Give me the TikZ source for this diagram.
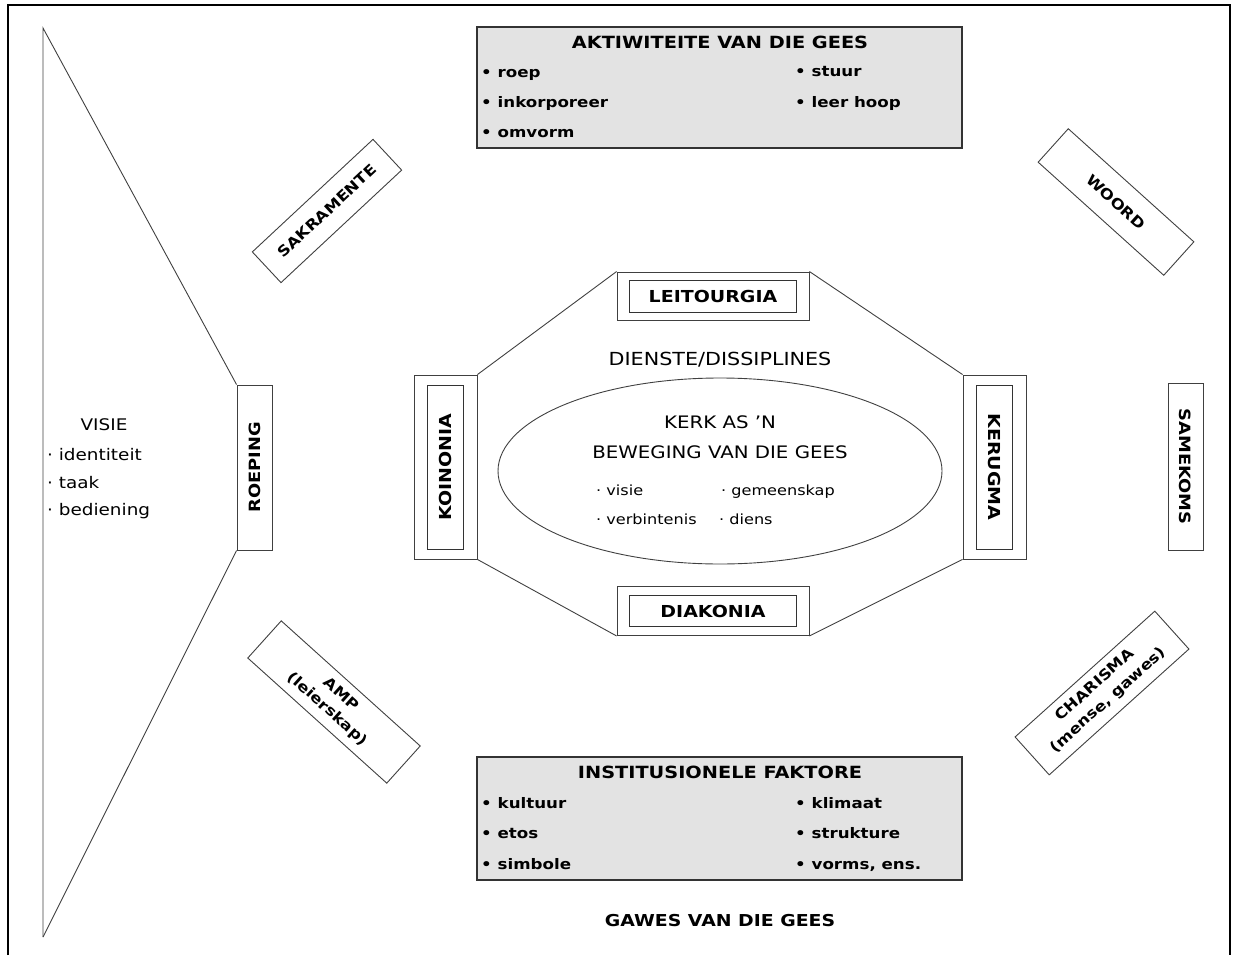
\documentclass[tikz,border=0pt]{standalone}
\usepackage{fontspec}
\setmainfont{DejaVu Sans}[FakeStretch=1.15]
\usepackage{tikz}
\usetikzlibrary{shapes.geometric}

\begin{document}
\begin{tikzpicture}[x=1pt,y=-1pt,
    line/.style={draw=black!75, line width=0.9pt},
    greybox/.style={draw=black!80, line width=1.2pt, fill=black!11, inner sep=0pt},
    outerbox/.style={draw=black!75, line width=0.9pt, fill=white, inner sep=0pt},
    innerbox/.style={draw=black!80, line width=0.9pt, inner sep=0pt, font=\bfseries\fontsize{16.5}{19}\selectfont},
    tiltbox/.style={draw=black!75, line width=0.9pt, fill=white, inner sep=0pt, align=center, font=\bfseries\fontsize{14.5}{20}\selectfont},
    boldtitle/.style={font=\bfseries\fontsize{16.8}{19}\selectfont, inner sep=0pt},
    bolditem/.style={font=\bfseries\fontsize{14.5}{17}\selectfont, inner sep=0pt, anchor=west, text height=8pt, text depth=0pt},
    upright/.style={font=\bfseries\fontsize{15.5}{18}\selectfont, inner sep=0pt},
    thintext/.style={font=\fontsize{17.2}{20}\selectfont, inner sep=0pt},
    thinitem/.style={font=\fontsize{14}{17}\selectfont, inner sep=0pt, anchor=west, text height=8pt, text depth=0pt}]

    \useasboundingbox (0,0) rectangle (1233,955);

    % Draw the frame, open at the bottom
    \draw[line width=1.6pt] (8,955) -- (8,5) -- (1230,5) -- (1230,955);

    % Draw the vision funnel and the calling box
    \node[outerbox, minimum width=35, minimum height=165] (roeping) at (254.5,467.5) {};
    \node[upright, rotate=90] (roepingtext) at (roeping) {ROEPING};
    \coordinate (funneltop) at (43,28);
    \coordinate (funnelbot) at (43,937);
    \draw[line] (funnelbot) -- (funneltop) -- (roeping.north west);
    \draw[line] (roeping.south west) -- (funnelbot);

    % Label the vision
    \node[thintext, font=\fontsize{16}{19}\selectfont] (visie) at (104,425) {VISIE};
    \node[thinitem, font=\fontsize{16}{19}\selectfont] (identiteit) at (47,456) {· identiteit};
    \node[thinitem, font=\fontsize{16}{19}\selectfont] (taak) at (47,484) {· taak};
    \node[thinitem, font=\fontsize{16}{19}\selectfont] (bediening) at (47,511) {· bediening};

    % Draw the activities of the Spirit
    \node[greybox, minimum width=485, minimum height=121] (aktiwiteite) at (719.5,87.5) {};
    \node[boldtitle] (aktitle) at (720,42) {AKTIWITEITE VAN DIE GEES};
    \node[bolditem] (roep) at (481,74) {• roep};
    \node[bolditem] (inkorporeer) at (481,103) {• inkorporeer};
    \node[bolditem] (omvorm) at (481,133) {• omvorm};
    \node[bolditem] (stuur) at (795,73) {• stuur};
    \node[bolditem] (leerhoop) at (795,103) {• leer hoop};

    % Draw the institutional factors
    \node[greybox, minimum width=485, minimum height=123] (faktore) at (719.5,818.5) {};
    \node[boldtitle] (faktitle) at (720,772) {INSTITUSIONELE FAKTORE};
    \node[bolditem] (kultuur) at (481,804) {• kultuur};
    \node[bolditem] (etos) at (481,834) {• etos};
    \node[bolditem] (simbole) at (481,865) {• simbole};
    \node[bolditem] (klimaat) at (795,804) {• klimaat};
    \node[bolditem] (strukture) at (795,834) {• strukture};
    \node[bolditem] (vorms) at (795,865) {• vorms, ens.};

    \node[boldtitle, font=\bfseries\fontsize{16.4}{19}\selectfont] (gawes) at (720,921) {GAWES VAN DIE GEES};

    % Draw the tilted boxes
    \node[tiltbox, rotate=43, minimum width=165, minimum height=42] (sakramente) at (327,211) {SAKRAMENTE};
    \node[tiltbox, rotate=-42, minimum width=169, minimum height=45] (woord) at (1116,202) {WOORD};
    \node[tiltbox, rotate=-42, minimum width=187, minimum height=50] (amp) at (334,702) {AMP\\(leierskap)};
    \node[tiltbox, rotate=42, minimum width=188, minimum height=51] (charisma) at (1102,693) {CHARISMA\\(mense, gawes)};

    % Draw the gathering box
    \node[outerbox, minimum width=35, minimum height=167] (samekoms) at (1185.5,466.5) {};
    \node[upright, rotate=-90] (samekomstext) at (samekoms) {SAMEKOMS};

    % Draw the four services of the octagon
    \node[outerbox, minimum width=192, minimum height=48] (leitourgia) at (713,296) {};
    \node[innerbox, minimum width=167, minimum height=32] (leitourgiatext) at (leitourgia) {LEITOURGIA};
    \node[outerbox, minimum width=192, minimum height=49] (diakonia) at (713,611) {};
    \node[innerbox, minimum width=167, minimum height=31] (diakoniatext) at (diakonia) {DIAKONIA};
    \node[outerbox, minimum width=63, minimum height=184] (koinonia) at (445.5,467) {};
    \node[innerbox, rotate=90, minimum width=164, minimum height=36] (koinoniatext) at (koinonia) {KOINONIA};
    \node[outerbox, minimum width=63, minimum height=184] (kerugma) at (994.5,467) {};
    \node[innerbox, rotate=-90, minimum width=164, minimum height=36] (kerugmatext) at (kerugma) {KERUGMA};

    % Join the services into an octagon
    \draw[line] (koinonia.north east) -- (leitourgia.north west);
    \draw[line] (leitourgia.north east) -- (kerugma.north west);
    \draw[line] (kerugma.south west) -- (diakonia.south east);
    \draw[line] (diakonia.south west) -- (koinonia.south east);

    \node[thintext, font=\fontsize{18}{20}\selectfont] (dienste) at (720,360) {DIENSTE/DISSIPLINES};

    % Draw the church as a movement of the Spirit
    \node[draw=black!75, line width=0.9pt, ellipse, minimum width=444, minimum height=186] (kerk) at (720,471) {};
    \node[thintext] (kerktitle) at (720,422) {KERK AS 'N};
    \node[thintext] (beweging) at (720,452) {BEWEGING VAN DIE GEES};
    \node[thinitem] (kvisie) at (596,491) {· visie};
    \node[thinitem] (gemeenskap) at (721,491) {· gemeenskap};
    \node[thinitem] (verbintenis) at (596,520) {· verbintenis};
    \node[thinitem] (diens) at (719,520) {· diens};

\end{tikzpicture}
\end{document}
